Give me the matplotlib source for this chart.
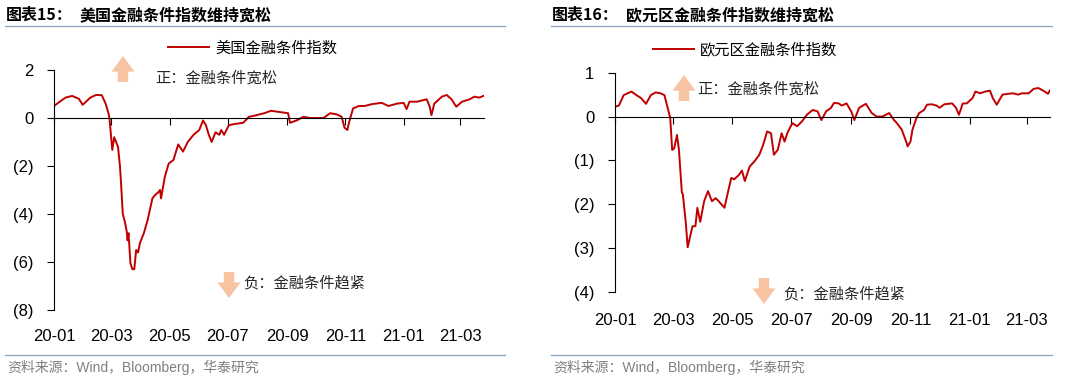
import numpy as np
import pandas as pd
import matplotlib
matplotlib.use("Agg")
import matplotlib.pyplot as plt
import matplotlib.dates as mdates
from matplotlib.lines import Line2D

plt.rcParams['font.family'] = ['Liberation Sans', 'Noto Sans CJK SC']
plt.rcParams['axes.unicode_minus'] = False

# ---- data ----
us_dates = ['2020-01-01', '2020-01-06', '2020-01-13', '2020-01-20', '2020-01-27', '2020-01-31',
            '2020-02-04', '2020-02-08', '2020-02-14', '2020-02-20', '2020-02-24', '2020-02-27',
            '2020-02-28', '2020-03-02', '2020-03-04', '2020-03-06', '2020-03-08', '2020-03-10',
            '2020-03-11', '2020-03-13', '2020-03-15', '2020-03-17', '2020-03-18', '2020-03-19',
            '2020-03-21', '2020-03-23', '2020-03-25', '2020-03-27', '2020-03-29', '2020-03-31',
            '2020-04-04', '2020-04-08', '2020-04-13', '2020-04-16', '2020-04-19', '2020-04-21',
            '2020-04-22', '2020-04-26', '2020-04-30', '2020-05-05', '2020-05-10', '2020-05-15',
            '2020-05-20', '2020-05-26', '2020-06-01', '2020-06-05', '2020-06-08', '2020-06-11',
            '2020-06-14', '2020-06-18', '2020-06-22', '2020-06-24', '2020-06-27', '2020-07-02',
            '2020-07-08', '2020-07-17', '2020-07-23', '2020-07-29', '2020-08-08', '2020-08-15',
            '2020-08-24', '2020-09-02', '2020-09-04', '2020-09-11', '2020-09-18', '2020-09-25',
            '2020-10-04', '2020-10-09', '2020-10-16', '2020-10-23', '2020-10-28', '2020-10-31',
            '2020-11-03', '2020-11-05', '2020-11-09', '2020-11-15', '2020-11-21', '2020-11-29',
            '2020-12-09', '2020-12-16', '2020-12-25', '2021-01-01', '2021-01-04', '2021-01-07',
            '2021-01-15', '2021-01-25', '2021-01-28', '2021-01-30', '2021-02-02', '2021-02-10',
            '2021-02-15', '2021-02-20', '2021-02-25', '2021-03-03', '2021-03-11', '2021-03-16',
            '2021-03-21', '2021-03-26']
us_fci = [0.5, 0.65, 0.85, 0.92, 0.8, 0.55,
          0.7, 0.85, 0.96, 0.95, 0.6, 0.2,
          0.0, -1.33, -0.8, -1.0, -1.2, -2.0,
          -2.6, -4.0, -4.3, -4.7, -5.1, -4.8,
          -6.05, -6.3, -6.3, -5.5, -5.6, -5.2,
          -4.8, -4.25, -3.35, -3.2, -3.1, -3.0,
          -3.35, -2.45, -1.9, -1.75, -1.1, -1.4,
          -1.0, -0.7, -0.5, -0.1, -0.3, -0.7,
          -1.0, -0.6, -0.7, -0.5, -0.7, -0.3,
          -0.25, -0.2, 0.05, 0.1, 0.2, 0.3,
          0.25, 0.2, -0.2, -0.1, 0.05, 0.0,
          0.0, 0.0, 0.2, 0.15, 0.05, -0.4,
          -0.5, -0.15, 0.4, 0.5, 0.5, 0.58,
          0.63, 0.5, 0.6, 0.63, 0.37, 0.68,
          0.68, 0.78, 0.5, 0.12, 0.6, 0.89,
          0.96, 0.78, 0.47, 0.68, 0.78, 0.89,
          0.85, 0.93]

ea_dates = ['2020-01-02', '2020-01-05', '2020-01-10', '2020-01-18', '2020-01-23', '2020-01-28',
            '2020-02-02', '2020-02-07', '2020-02-12', '2020-02-17', '2020-02-21', '2020-02-24',
            '2020-02-27', '2020-02-29', '2020-03-02', '2020-03-05', '2020-03-07', '2020-03-10',
            '2020-03-11', '2020-03-14', '2020-03-16', '2020-03-21', '2020-03-24', '2020-03-26',
            '2020-03-29', '2020-04-02', '2020-04-06', '2020-04-10', '2020-04-14', '2020-04-17',
            '2020-04-23', '2020-04-26', '2020-04-30', '2020-05-03', '2020-05-08', '2020-05-11',
            '2020-05-14', '2020-05-19', '2020-05-24', '2020-05-29', '2020-06-02', '2020-06-06',
            '2020-06-10', '2020-06-13', '2020-06-17', '2020-06-21', '2020-06-24', '2020-06-27',
            '2020-07-02', '2020-07-07', '2020-07-12', '2020-07-17', '2020-07-23', '2020-07-28',
            '2020-08-01', '2020-08-06', '2020-08-11', '2020-08-14', '2020-08-19', '2020-08-22',
            '2020-08-27', '2020-09-01', '2020-09-04', '2020-09-09', '2020-09-16', '2020-09-22',
            '2020-09-27', '2020-10-03', '2020-10-10', '2020-10-15', '2020-10-18', '2020-10-23',
            '2020-10-28', '2020-10-29', '2020-11-01', '2020-11-03', '2020-11-07', '2020-11-10',
            '2020-11-15', '2020-11-18', '2020-11-23', '2020-11-28', '2020-12-01', '2020-12-06',
            '2020-12-14', '2020-12-18', '2020-12-21', '2020-12-25', '2020-12-29', '2021-01-04',
            '2021-01-07', '2021-01-12', '2021-01-17', '2021-01-22', '2021-01-25', '2021-01-29',
            '2021-02-04', '2021-02-10', '2021-02-15', '2021-02-20', '2021-02-24', '2021-03-03',
            '2021-03-08', '2021-03-13', '2021-03-18', '2021-03-23', '2021-03-25']
ea_fci = [0.23, 0.25, 0.49, 0.57, 0.49, 0.42,
          0.29, 0.49, 0.55, 0.53, 0.49, 0.23,
          -0.03, -0.76, -0.73, -0.42, -0.76, -1.73,
          -1.77, -2.4, -2.98, -2.5, -2.5, -2.08,
          -2.4, -1.93, -1.7, -1.93, -1.86, -1.93,
          -2.08, -1.78, -1.4, -1.43, -1.33, -1.23,
          -1.47, -1.14, -1.02, -0.87, -0.64, -0.34,
          -0.38, -0.87, -0.76, -0.38, -0.57, -0.37,
          -0.15, -0.22, -0.11, 0.04, 0.15, 0.12,
          -0.08, 0.12, 0.2, 0.31, 0.3, 0.25,
          0.3, 0.11, -0.08, 0.2, 0.29, 0.08,
          0.0, 0.0, 0.08, -0.08, -0.15, -0.3,
          -0.6, -0.68, -0.57, -0.3, -0.04, 0.08,
          0.15, 0.27, 0.28, 0.25, 0.2, 0.28,
          0.3, 0.2, 0.04, 0.3, 0.3, 0.42,
          0.57, 0.53, 0.57, 0.59, 0.42, 0.27,
          0.5, 0.52, 0.53, 0.5, 0.53, 0.53,
          0.63, 0.65, 0.59, 0.52, 0.6]

x_ticks = ['2020-01-01', '2020-03-01', '2020-05-01', '2020-07-01',
           '2020-09-01', '2020-11-01', '2021-01-01', '2021-03-01']
x_ticklabels = ['20-01', '20-03', '20-05', '20-07', '20-09', '20-11', '21-01', '21-03']

us_yticks = [2, 0, -2, -4, -6, -8]
us_yticklabels = ['2', '0', '(2)', '(4)', '(6)', '(8)']
ea_yticks = [1, 0, -1, -2, -3, -4]
ea_yticklabels = ['1', '0', '(1)', '(2)', '(3)', '(4)']

W, H = 1080, 378
RED = '#C00000'
ARROW = '#F7C3A0'
RULE = '#8AA4BE'
CJK = ['Noto Sans CJK SC', 'DejaVu Sans']

fig = plt.figure(figsize=(W / 100, H / 100), dpi=100)


def fx(x):
    return x / W


def fy(y):
    return 1 - y / H


def panel(rect, dates, vals, yticks, ylabels, ylim, label, pad_x):
    ax = fig.add_axes(rect)
    d = pd.to_datetime(dates)
    ax.plot(d, vals, color=RED, lw=1.4, label=label)
    ax.set_ylim(*ylim)
    ax.set_xlim(pd.Timestamp('2020-01-01'), d[-1])
    ax.set_yticks(yticks)
    ax.set_yticklabels(ylabels)
    tk = pd.to_datetime(x_ticks)
    ax.set_xticks(tk)
    ax.tick_params(axis='x', direction='out', length=5, width=0.8, labelbottom=False)
    ax.tick_params(axis='y', direction='out', length=5, width=0.8, labelsize=12, pad=10)
    for s in ['top', 'right']:
        ax.spines[s].set_visible(False)
    ax.spines['bottom'].set_position(('data', 0))
    ax.spines['left'].set_linewidth(0.8)
    ax.spines['bottom'].set_linewidth(0.8)
    # date labels sit at the bottom of the panel
    sec = ax.secondary_xaxis('bottom')
    sec.set_xticks(tk)
    sec.set_xticklabels(x_ticklabels)
    sec.tick_params(length=0, labelsize=12, pad=pad_x)
    sec.spines['bottom'].set_visible(False)
    return ax


ax1 = panel([fx(54), fy(310), fx(430), (310 - 70) / H], us_dates, us_fci,
            us_yticks, us_yticklabels, (-8, 2), '美国金融条件指数', 14)
ax2 = panel([fx(615), fy(292), fx(435), (292 - 72.7) / H], ea_dates, ea_fci,
            ea_yticks, ea_yticklabels, (-4, 1), '欧元区金融条件指数', 15)

for ax, lx, ly in [(ax1, 168, 48), (ax2, 653, 50)]:
    ax.legend(loc='center left', bbox_to_anchor=(fx(lx), fy(ly)), bbox_transform=fig.transFigure,
              frameon=False, borderpad=0, borderaxespad=0, handlelength=2.7, handletextpad=0.4,
              prop={'family': CJK, 'size': 11})

# titles and rules
for x0, x1, num, title in [(5, 505, '图表15：', '美国金融条件指数维持宽松'),
                           (551, 1052, '图表16：', '欧元区金融条件指数维持宽松')]:
    fig.text(fx(x0 + 1), fy(15), num, family=CJK, weight='bold', fontsize=11.5, va='center')
    fig.text(fx(x0 + 75), fy(15), title, family=CJK, weight='bold', fontsize=11.5, va='center')
    fig.add_artist(Line2D([fx(x0), fx(x1)], [fy(26), fy(26)], color=RULE, lw=0.9,
                          transform=fig.transFigure))
    fig.add_artist(Line2D([fx(x0), fx(x1)], [fy(355), fy(355)], color=RULE, lw=0.9,
                          transform=fig.transFigure))
    fig.text(fx(x0 + 2), fy(367), '资料来源：Wind，Bloomberg，华泰研究', color='#808080',
             fontsize=10, va='center')

# arrows and notes
for ax_x, y0, y1, tx, ty, txt in [(123, 82, 56, 155, 78, '正：金融条件宽松'),
                                   (229, 272, 298, 243, 283, '负：金融条件趋紧'),
                                   (684, 101, 75, 697, 89, '正：金融条件宽松'),
                                   (764, 278, 304, 783, 294, '负：金融条件趋紧')]:
    fig.add_artist(matplotlib.patches.FancyArrowPatch(
        (fx(ax_x), fy(y0)), (fx(ax_x), fy(y1)), transform=fig.transFigure,
        arrowstyle='simple,head_width=1.1,head_length=0.75,tail_width=0.5',
        mutation_scale=15, color=ARROW, lw=0, shrinkA=0, shrinkB=0))
    fig.text(fx(tx), fy(ty), txt, family=CJK, fontsize=11, color='#262626', va='center')

fig.savefig('out.png', dpi=100)
